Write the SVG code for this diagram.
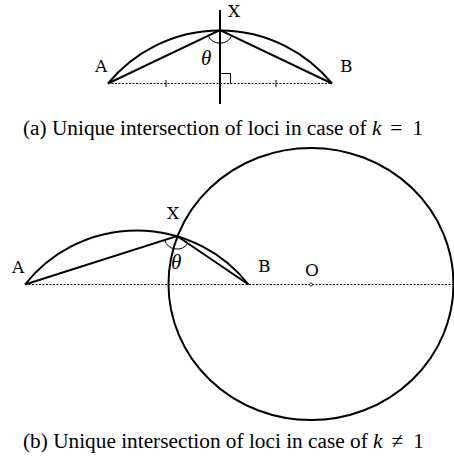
<svg xmlns="http://www.w3.org/2000/svg" width="454" height="459" viewBox="0 0 454 459">
<style>
.thick{fill:none;stroke:#000;stroke-width:2}
.thin{fill:none;stroke:#000;stroke-width:1}
.dot{fill:none;stroke:#000;stroke-width:1.2;stroke-dasharray:2 1.5}
.lbl{font-family:"DejaVu Serif",serif;font-size:17px;fill:#000}
.th{font-family:"Liberation Serif",serif;font-style:italic;font-size:21px;fill:#000}
.cap{font-family:"Liberation Serif",serif;font-size:21.3px;fill:#000}
</style>
<rect width="454" height="459" fill="#fff"/>
<g id="connectors">
  <!-- diagram (a) -->
  <line class="dot" x1="108" y1="83.5" x2="332" y2="83.5"/>
  <line class="thin" x1="166" y1="80" x2="166" y2="87"/>
  <line class="thin" x1="276" y1="80" x2="276" y2="87"/>
  <path class="thick" d="M108,83.5 A144.8,144.8 0 0 1 332,83.5"/>
  <path class="thick" d="M108,83.5 L220,30 L332,83.5"/>
  <line class="thick" x1="220" y1="10" x2="220" y2="104"/>
  <path class="thin" d="M220.5,73.5 H230.5 V83.5"/>
  <path class="thin" d="M208.2,35.6 A13,13 0 0 0 231.8,35.6"/>
  <!-- diagram (b) -->
  <line class="dot" x1="25" y1="284.5" x2="454" y2="284.5"/>
  <ellipse class="thick" cx="311" cy="284" rx="142.5" ry="136"/>
  <circle cx="311" cy="284.5" r="1.6" fill="#fff" stroke="#000" stroke-width="0.8"/>
  <path class="thick" d="M25,284.5 A142.5,142.5 0 0 1 248.5,284.5"/>
  <path class="thick" d="M25,284.5 L177,236 L248.5,284.5"/>
  <path class="thin" d="M164.6,239.9 A13,13 0 0 0 187.8,243.3"/>
</g>
<g id="nodeA1"><text class="lbl" x="95" y="72">A</text></g>
<g id="nodeB1"><text class="lbl" x="340" y="72">B</text></g>
<g id="nodeX1"><text class="lbl" x="228" y="17">X</text></g>
<g id="theta1"><text class="th" x="201" y="65">θ</text></g>
<g id="caption-a"><text class="cap" x="23" y="135">(a) Unique intersection of loci in case of <tspan font-style="italic">k</tspan><tspan dx="9">=</tspan><tspan dx="10">1</tspan></text></g>
<g id="nodeA2"><text class="lbl" x="12" y="273">A</text></g>
<g id="nodeB2"><text class="lbl" x="258" y="272">B</text></g>
<g id="nodeX2"><text class="lbl" x="167" y="219">X</text></g>
<g id="nodeO"><text class="lbl" x="305" y="276">O</text></g>
<g id="theta2"><text class="th" x="171" y="269">θ</text></g>
<g id="caption-b"><text class="cap" x="23" y="448">(b) Unique intersection of loci in case of <tspan font-style="italic">k</tspan><tspan dx="9">≠</tspan><tspan dx="10">1</tspan></text></g>
</svg>
